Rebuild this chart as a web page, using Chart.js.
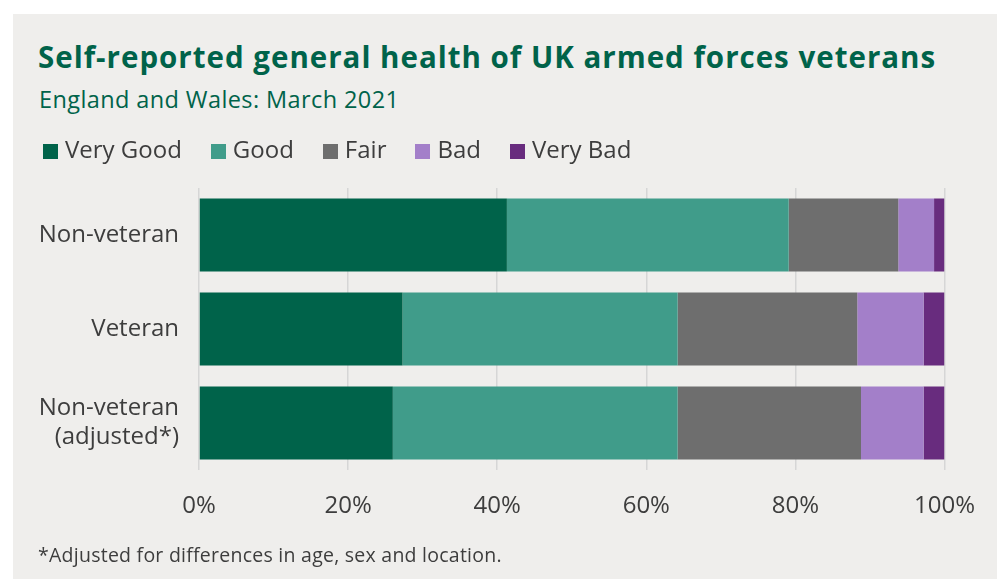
<!DOCTYPE html>
<html>
<head>
<meta charset="utf-8">
<script src="https://cdn.jsdelivr.net/npm/chart.js@4/dist/chart.umd.min.js"></script>
<style>
  html, body { margin: 0; padding: 0; background: #ffffff; }
  body { width: 997px; height: 579px; position: relative; overflow: hidden; font-family: "Open Sans", sans-serif; }
  #panel { position: absolute; left: 13px; top: 14px; width: 984px; height: 565px; background: #efeeec; }
  #title { position: absolute; left: 38px; top: 36px; font-size: 29.5px; font-weight: 700; color: #00634a; white-space: nowrap; letter-spacing: 1px; }
  #subtitle { position: absolute; left: 39px; top: 83px; font-size: 23.5px; color: #00634a; white-space: nowrap; letter-spacing: 0.4px; }
  #note { position: absolute; left: 38px; top: 541px; font-size: 19.5px; color: #3d3d3d; white-space: nowrap; letter-spacing: 0.25px; }
  #wrap { position: absolute; left: 0; top: 0; width: 997px; height: 579px; }
</style>
</head>
<body>
<div id="panel"></div>
<div id="title">Self-reported general health of UK armed forces veterans</div>
<div id="subtitle">England and Wales: March 2021</div>
<div id="wrap"><canvas id="c" width="997" height="579"></canvas></div>
<div id="note">*Adjusted for differences in age, sex and location.</div>
<script>
const categories = ["Non-veteran", "Veteran", ["Non-veteran", "(adjusted*)"]];
const seriesNames = ["Very Good", "Good", "Fair", "Bad", "Very Bad"];
const veryGood = [41.3, 27.3, 26.0];
const good     = [37.8, 36.9, 38.2];
const fair     = [14.7, 24.1, 24.6];
const bad      = [4.8, 8.9, 8.4];
const veryBad  = [1.4, 2.8, 2.8];
const xTicks = [0, 20, 40, 60, 80, 100];
const colors = ["#00634a", "#409c8a", "#6e6e6e", "#a37fc9", "#682c7e"];

const seriesValues = [veryGood, good, fair, bad, veryBad];

// legend swatches (15x15 squares)
function swatch(color) {
  const cv = document.createElement('canvas');
  cv.width = 15; cv.height = 15;
  const g = cv.getContext('2d');
  g.fillStyle = color;
  g.fillRect(0, 0, 15, 15);
  return cv;
}
const swatches = colors.map(swatch);

const legendHeightPlugin = {
  id: 'legendHeight',
  beforeInit(chart) {
    const l = chart.legend;
    if (!l) return;
    const f = l.fit;
    l.fit = function () { f.call(this); this.height = 83; };
  }
};

new Chart(document.getElementById('c'), {
  type: 'bar',
  data: {
    labels: categories,
    datasets: seriesNames.map((n, i) => ({
      label: n,
      data: seriesValues[i],
      backgroundColor: colors[i],
      borderWidth: 0,
      barPercentage: 1,
      categoryPercentage: 0.777
    }))
  },
  options: {
    indexAxis: 'y',
    responsive: false,
    animation: false,
    layout: { padding: { left: 14, right: 52, top: 105, bottom: 0 } },
    plugins: {
      legend: {
        position: 'top',
        align: 'start',
        labels: {
          usePointStyle: true,
          pointStyleWidth: 5,
          boxHeight: 15,
          padding: 34,
          color: '#3d3d3d',
          font: { family: 'Open Sans', size: 24 },
          generateLabels(chart) {
            const items = Chart.defaults.plugins.legend.labels.generateLabels(chart);
            items.forEach((it, i) => { it.pointStyle = swatches[i]; it.lineWidth = 0; });
            return items;
          }
        }
      },
      tooltip: { enabled: false },
      title: { display: false }
    },
    scales: {
      x: {
        stacked: true,
        min: 0,
        max: 100,
        afterBuildTicks(axis) { axis.ticks = xTicks.map(v => ({ value: v })); },
        grid: { color: '#d6d6d6', lineWidth: 1.5, drawTicks: false },
        border: { display: false },
        afterFit(axis) { axis.height = 109; },
        ticks: {
          padding: 22,
          color: '#3d3d3d',
          font: { family: 'Open Sans', size: 24 },
          callback: v => v + '%'
        }
      },
      y: {
        stacked: true,
        grid: { display: false, drawTicks: false },
        border: { display: false },
        afterFit(axis) { axis.width = 185; },
        ticks: {
          padding: 20,
          color: '#3d3d3d',
          font: { family: 'Open Sans', size: 24, lineHeight: 1.2 }
        }
      }
    }
  },
  plugins: [legendHeightPlugin]
});
</script>
</body>
</html>
